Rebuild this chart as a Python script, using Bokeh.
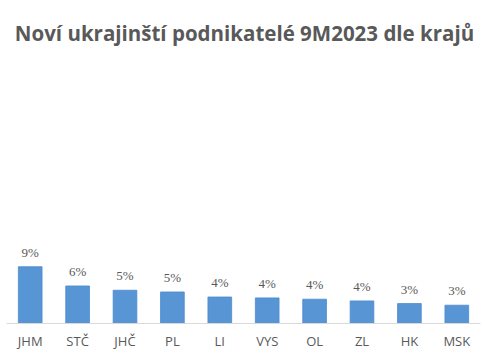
from bokeh.plotting import figure
from bokeh.models import ColumnDataSource, LabelSet, Label, Range1d
from bokeh.embed import file_html
from bokeh.resources import INLINE

# Data
regions = ["JHM", "STČ", "JHČ", "PL", "LI", "VYS", "OL", "ZL", "HK", "MSK"]
shares = [9.0, 5.95, 5.27, 5.0, 4.2, 4.06, 3.85, 3.58, 3.16, 2.9]
share_labels = ["9%", "6%", "5%", "5%", "4%", "4%", "4%", "4%", "3%", "3%"]
title_text = "Noví ukrajinští podnikatelé 9M2023 dle krajů"

source = ColumnDataSource(dict(region=regions, share=shares, label=share_labels))

p = figure(
    x_range=regions,
    y_range=Range1d(0, 51.2),
    width=485,
    height=360,
    output_backend="svg",
    toolbar_location=None,
    min_border_left=6,
    min_border_right=5,
    min_border_top=0,
    min_border_bottom=37,
)

title = Label(x=238, y=291, x_units="screen", y_units="screen", text=title_text,
              text_align="center", text_baseline="middle",
              text_font="Open Sans", text_font_size="20.5px", text_font_style="bold",
              text_color="#595959")
p.add_layout(title)

p.vbar(x="region", top="share", width=0.5, source=source,
       fill_color="#5895d5", line_color="#4d8acb", line_width=0.8)

labels = LabelSet(x="region", y="share", text="label", source=source,
                  text_align="center", text_baseline="bottom", y_offset=7,
                  text_font="Open Sans", text_font_size="13px", text_color="#595959")
p.add_layout(labels)

p.yaxis.visible = False
p.xgrid.grid_line_color = None
p.ygrid.grid_line_color = None
p.outline_line_color = None

ax = p.xaxis[0]
ax.axis_line_color = "#d9d9d9"
ax.axis_line_width = 1
ax.major_tick_line_color = None
ax.minor_tick_line_color = None
ax.major_tick_out = 0
ax.major_tick_in = 0
ax.major_label_standoff = 8
ax.axis_label_standoff = 0
ax.axis_label_text_font_size = "1px"
ax.major_label_text_font = "Open Sans"
ax.major_label_text_font_size = "13px"
ax.major_label_text_color = "#595959"

p.x_range.range_padding = 0.0

open("out.html", "w").write(file_html(p, INLINE))
